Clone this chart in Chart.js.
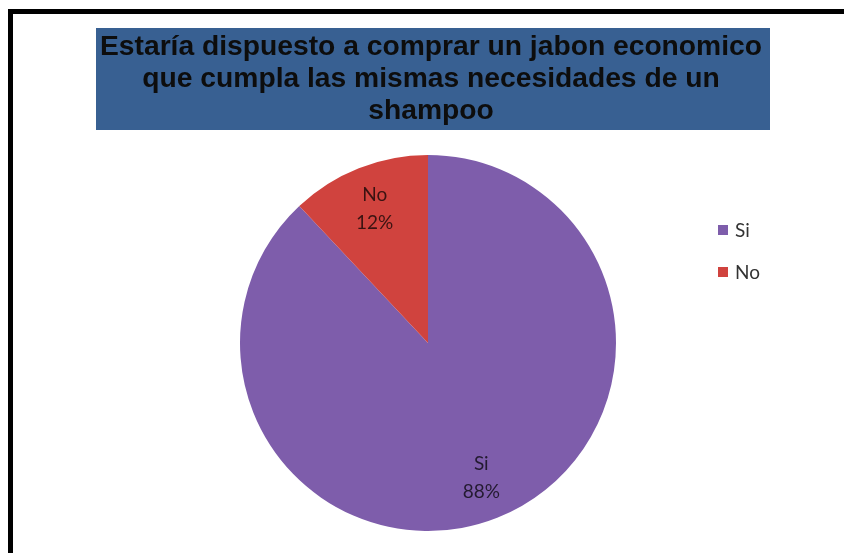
<!DOCTYPE html>
<html>
<head>
<meta charset="utf-8">
<script src="https://cdn.jsdelivr.net/npm/chart.js"></script>
<style>
  html, body { margin: 0; padding: 0; background: #fff; }
  #wrap { width: 844px; height: 553px; }
</style>
</head>
<body>
<div id="wrap"><canvas id="myChart" width="844" height="553"></canvas></div>
<script>
const categories = ['Si', 'No']
const values = [88, 12]
const sliceColors = ['#7E5DAB', '#D0433E']
const titleLines = [
  'Estaría dispuesto a comprar un jabon economico',
  'que cumpla las mismas necesidades de un',
  'shampoo'
]

// frame + blue title box
const titleBox = {
  id: 'titleBox',
  beforeDraw(chart) {
    const ctx = chart.ctx
    ctx.save()
    ctx.fillStyle = '#fff'
    ctx.fillRect(0, 0, chart.width, chart.height)
    ctx.fillStyle = '#000'
    ctx.fillRect(8, 9, chart.width - 8, 5)
    ctx.fillRect(8, 9, 5, chart.height - 9)
    ctx.fillStyle = '#386092'
    ctx.fillRect(96, 28, 674, 102)
    ctx.fillStyle = '#0d0d0d'
    ctx.font = 'bold 27px "Liberation Sans", Arial, sans-serif'
    ctx.textAlign = 'center'
    ctx.textBaseline = 'middle'
    // stretch a little so the first line spans the box like the original
    const sx = 662 / ctx.measureText(titleLines[0]).width
    ctx.translate(431, 0)
    ctx.scale(sx, 1)
    titleLines.forEach((t, i) => ctx.fillText(t, 0, 48 + i * 32))
    ctx.restore()
  }
}

// "No 12%" labels inside the slices + legend on the right
const sliceLabels = {
  id: 'sliceLabels',
  afterDraw(chart) {
    const ctx = chart.ctx
    const meta = chart.getDatasetMeta(0)
    const total = values.reduce((a, b) => a + b, 0)
    ctx.save()
    ctx.font = '19px Lato, "Open Sans", sans-serif'
    ctx.textAlign = 'center'
    ctx.textBaseline = 'middle'
    meta.data.forEach((arc, i) => {
      const mid = (arc.startAngle + arc.endAngle) / 2
      const r = arc.outerRadius * 0.77
      const x = arc.x + Math.cos(mid) * r
      const y = arc.y + Math.sin(mid) * r
      ctx.fillStyle = 'rgba(0,0,0,0.72)'
      ctx.fillText(categories[i], x, y - 14)
      ctx.fillText(Math.round(values[i] / total * 100) + '%', x, y + 14)
    })

    // legend
    ctx.textAlign = 'left'
    categories.forEach((c, i) => {
      const y = 230 + i * 42
      ctx.fillStyle = sliceColors[i]
      ctx.fillRect(718, y - 5, 10, 10)
      ctx.fillStyle = '#333'
      ctx.fillText(c, 735, y + 1)
    })
    ctx.restore()
  }
}

new Chart(document.getElementById('myChart'), {
  type: 'pie',
  data: {
    labels: categories,
    datasets: [{
      data: values,
      backgroundColor: sliceColors,
      borderWidth: 0
    }]
  },
  options: {
    responsive: false,
    animation: false,
    layout: { padding: { left: 240, top: 155, right: 228, bottom: 22 } },
    plugins: {
      legend: { display: false },
      tooltip: { enabled: false },
      title: { display: false }
    }
  },
  plugins: [titleBox, sliceLabels]
})
</script>
</body>
</html>
